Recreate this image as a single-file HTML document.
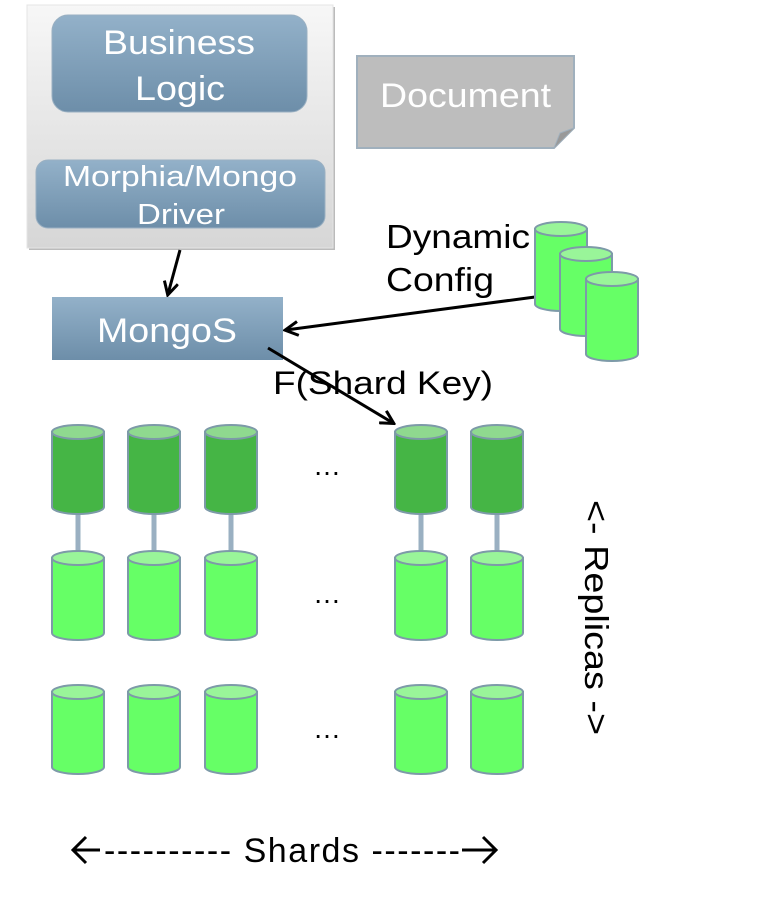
<!DOCTYPE html>
<html><head><meta charset="utf-8"><style>
body{margin:0;background:#fff;}
svg{display:block;font-family:"Liberation Sans",sans-serif;}
</style></head><body>
<svg width="777" height="900" viewBox="0 0 777 900">
<defs>
<linearGradient id="panel" x1="0" y1="0" x2="0" y2="1"><stop offset="0" stop-color="#f7f7f7"/><stop offset="1" stop-color="#d6d6d6"/></linearGradient>
<linearGradient id="blue" x1="0" y1="0" x2="0" y2="1"><stop offset="0" stop-color="#93b1c9"/><stop offset="1" stop-color="#6d8ea9"/></linearGradient>
<marker id="ah" markerWidth="16" markerHeight="16" refX="13" refY="8" orient="auto" markerUnits="userSpaceOnUse"><path d="M1,1 L14,8 L1,15" fill="none" stroke="#000" stroke-width="3"/></marker>
<g id="dk"><path d="M0,7 V82 A26,7 0 0 0 52,82 V7 Z" fill="#45b545" stroke="#7d9aa8" stroke-width="2"/><ellipse cx="26" cy="7" rx="26" ry="7" fill="#8fd98f" stroke="#7d9aa8" stroke-width="2"/></g>
<g id="lt"><path d="M0,7 V82 A26,7 0 0 0 52,82 V7 Z" fill="#66ff66" stroke="#7d9aa8" stroke-width="2"/><ellipse cx="26" cy="7" rx="26" ry="7" fill="#99f599" stroke="#7d9aa8" stroke-width="2"/></g>
</defs>
<rect x="29" y="7" width="306" height="243" fill="#bbb"/>
<rect x="27" y="5" width="306" height="243" fill="url(#panel)" stroke="#e4e4e4"/>
<rect x="52" y="15" width="255" height="97" rx="16" fill="url(#blue)" stroke="#9ab0c2"/>
<text x="103" y="54" font-size="34" fill="#fff" textLength="152" lengthAdjust="spacingAndGlyphs">Business</text>
<text x="135" y="100" font-size="34" fill="#fff" textLength="90" lengthAdjust="spacingAndGlyphs">Logic</text>
<rect x="36" y="160" width="289" height="68" rx="12" fill="url(#blue)" stroke="#9ab0c2"/>
<text x="63" y="186" font-size="29" fill="#fff" textLength="234" lengthAdjust="spacingAndGlyphs">Morphia/Mongo</text>
<text x="137" y="224" font-size="29" fill="#fff" textLength="88" lengthAdjust="spacingAndGlyphs">Driver</text>
<path d="M357,56 H574 V128 L554,148 H357 Z" fill="#bdbdbd" stroke="#a0b0bd" stroke-width="2"/>
<path d="M574,128 L560,133 L554,148" fill="#999" stroke="#a0b0bd"/>
<text x="380" y="107" font-size="34" fill="#fff" textLength="171" lengthAdjust="spacingAndGlyphs">Document</text>
<rect x="52" y="297" width="231" height="63" fill="url(#blue)"/>
<text x="97" y="342" font-size="34" fill="#fff" textLength="140" lengthAdjust="spacingAndGlyphs">MongoS</text>
<line x1="180" y1="250" x2="168" y2="294" stroke="#000" stroke-width="3" marker-end="url(#ah)"/>
<text x="386" y="248" font-size="33" textLength="144" lengthAdjust="spacingAndGlyphs">Dynamic</text>
<text x="386" y="291" font-size="33" textLength="108" lengthAdjust="spacingAndGlyphs">Config</text>
<line x1="535" y1="297" x2="286" y2="330" stroke="#000" stroke-width="3" marker-end="url(#ah)"/>
<use href="#lt" transform="translate(535,222)"/>
<use href="#lt" transform="translate(560,247)"/>
<use href="#lt" transform="translate(586,272)"/>
<text x="273" y="394" font-size="32" textLength="220" lengthAdjust="spacingAndGlyphs">F(Shard Key)</text>
<line x1="268" y1="348" x2="393" y2="423" stroke="#000" stroke-width="3" marker-end="url(#ah)"/>
<g stroke="#9ab0c2" stroke-width="5">
<line x1="78" y1="512" x2="78" y2="553"/><line x1="154" y1="512" x2="154" y2="553"/><line x1="231" y1="512" x2="231" y2="553"/><line x1="421" y1="512" x2="421" y2="553"/><line x1="497" y1="512" x2="497" y2="553"/>
</g>
<use href="#dk" transform="translate(52,425)"/><use href="#dk" transform="translate(128,425)"/><use href="#dk" transform="translate(205,425)"/><use href="#dk" transform="translate(395,425)"/><use href="#dk" transform="translate(471,425)"/>
<use href="#lt" transform="translate(52,551)"/><use href="#lt" transform="translate(128,551)"/><use href="#lt" transform="translate(205,551)"/><use href="#lt" transform="translate(395,551)"/><use href="#lt" transform="translate(471,551)"/>
<use href="#lt" transform="translate(52,685)"/><use href="#lt" transform="translate(128,685)"/><use href="#lt" transform="translate(205,685)"/><use href="#lt" transform="translate(395,685)"/><use href="#lt" transform="translate(471,685)"/>
<text x="327" y="475" font-size="28" text-anchor="middle">…</text>
<text x="327" y="603" font-size="28" text-anchor="middle">…</text>
<text x="327" y="738" font-size="28" text-anchor="middle">…</text>
<text transform="translate(585,500) rotate(90)" font-size="33" textLength="235" lengthAdjust="spacingAndGlyphs">&lt;- Replicas -&gt;</text>
<path d="M86,837 L73,850 L86,863 M73,850 H100" fill="none" stroke="#000" stroke-width="3"/>
<path d="M483,837 L496,850 L483,863 M496,850 H462" fill="none" stroke="#000" stroke-width="3"/>
<text x="104" y="862" font-size="34" textLength="356" lengthAdjust="spacing">---------- Shards -------</text>
</svg>
</body></html>
